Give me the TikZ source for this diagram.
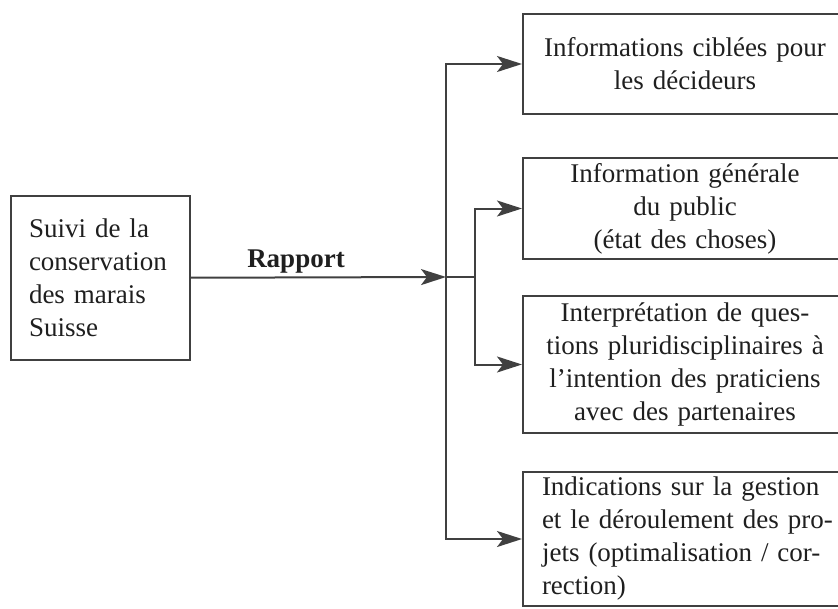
\documentclass[tikz,border=0pt]{standalone}
\usepackage{fontspec}
\setmainfont{Liberation Serif}
\usetikzlibrary{arrows.meta}
\begin{document}
\begin{tikzpicture}[x=1pt,y=-1pt,
  txt/.style={text=black!88, font=\fontsize{27}{33}\selectfont},
  box/.style={txt, draw=black!75, line width=2pt, inner sep=0pt, anchor=north west},
  outbox/.style={box, minimum width=324pt, text width=290pt, align=center},
  link/.style={draw=black!75, line width=2pt, line join=miter},
  arr/.style={link, -{Stealth[length=25pt,width=16pt,inset=6pt]}}]
  \useasboundingbox (0,0) rectangle (838,608);
  \clip (0,0) rectangle (838,608);

  % source box
  \node[box, minimum width=179pt, minimum height=164pt, text width=143pt, align=left]
    (src) at (10,195) {Suivi de la\\conservation\\des marais\\Suisse};

  % target boxes (their right side runs past the page edge)
  \node[outbox, minimum height=100pt] (b1) at (522,13)
    {Informations ciblées pour\\les décideurs};
  \node[outbox, minimum height=101pt] (b2) at (522,157)
    {Information générale\\du public\\(état des choses)};
  \node[outbox, minimum height=137pt] (b3) at (522,295)
    {Interprétation de ques-\\tions pluridisciplinaires à\\l’intention des praticiens\\avec des partenaires};
  \node[box, inner xsep=19pt, minimum height=134pt, text width=305pt, align=left] (b4) at (522,471)
    {Indications sur la gestion\\et le déroulement des pro-\\jets (optimalisation / cor-\\rection)};

  % distribution points
  \coordinate (hub) at (446,277);
  \coordinate (sub) at (475,277);

  % label on the main link
  \node[txt, font=\bfseries\fontsize{27}{33}\selectfont, anchor=base] (lbl) at (296,267) {Rapport};

  % connectors
  \draw[arr] (src) -- (hub);
  \draw[arr] (hub) |- (b1.west);
  \draw[arr] (hub) |- (b4.west);
  \draw[link] (hub) -- (sub);
  \draw[arr] (sub) |- (b2.west);
  \draw[arr] (sub) |- (b3.west);
\end{tikzpicture}
\end{document}
